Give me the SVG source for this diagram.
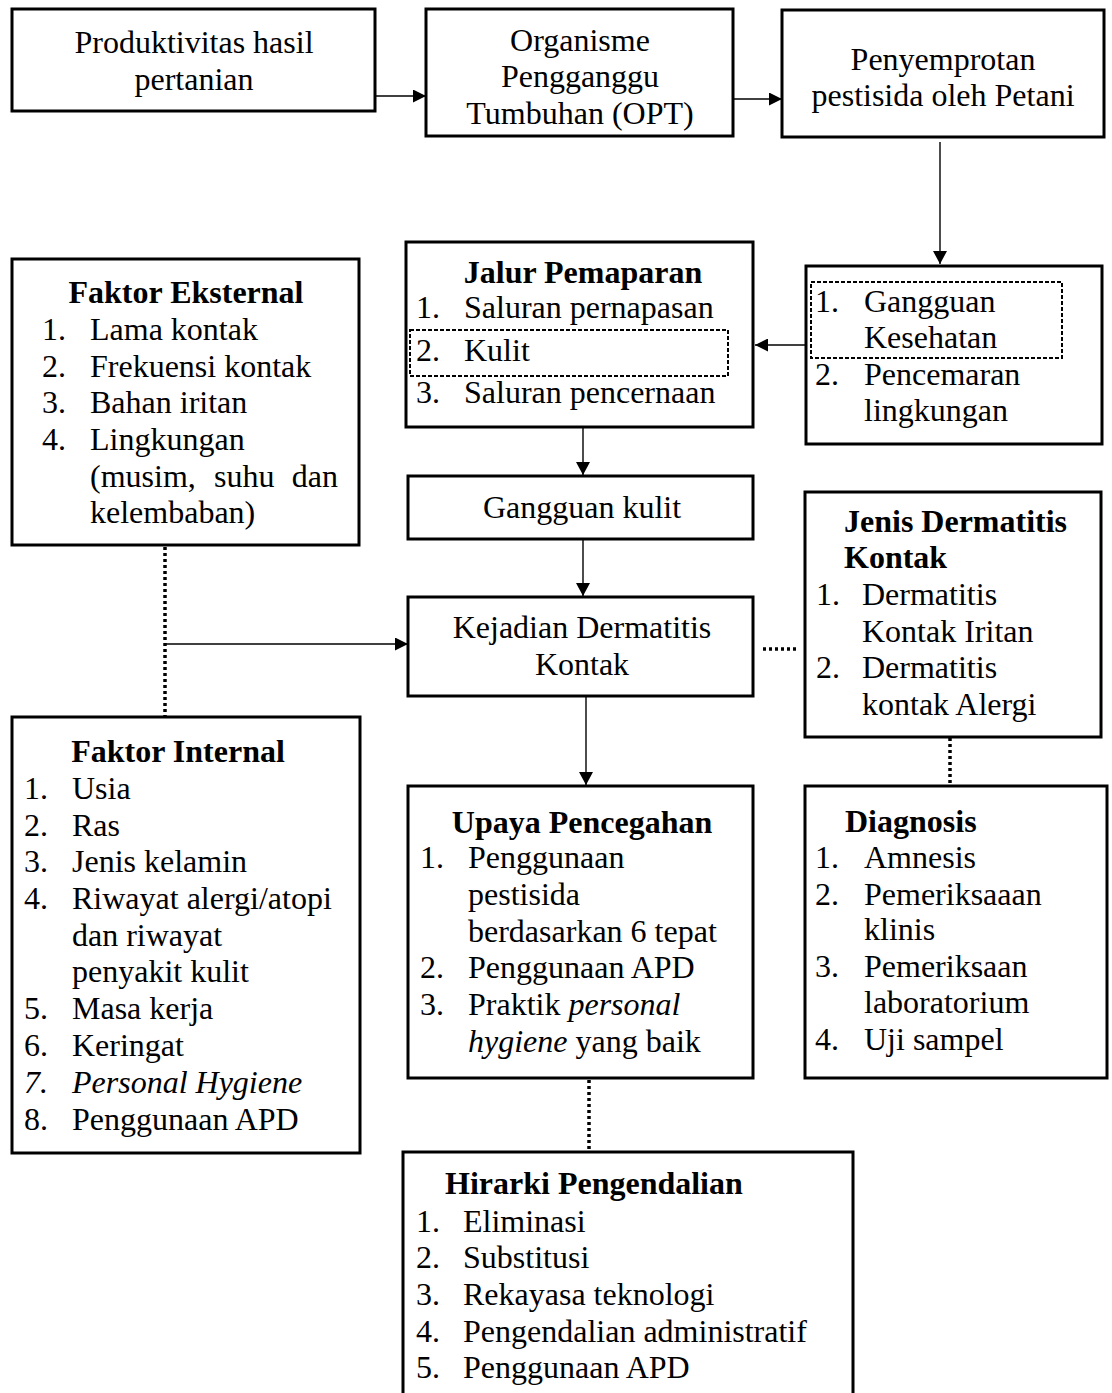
<svg xmlns="http://www.w3.org/2000/svg" width="1112" height="1393" viewBox="0 0 1112 1393">
<defs>
<style>
.box{fill:#fff;stroke:#000;stroke-width:3}
.dash{fill:none;stroke:#000;stroke-width:2;stroke-dasharray:4 2}
.ln{fill:none;stroke:#000;stroke-width:1.4}
.dot{fill:none;stroke:#000;stroke-width:3.5;stroke-dasharray:3 3}
text{font-family:"Liberation Serif","Times New Roman",serif;font-size:32px;fill:#000}
.c{text-anchor:middle}
.b{font-weight:bold}
.i{font-style:italic}
</style>
<marker id="ah" viewBox="0 0 10 10" refX="10" refY="5" markerWidth="13" markerHeight="14" markerUnits="userSpaceOnUse" orient="auto" preserveAspectRatio="none">
<path d="M0,0 L10,5 L0,10 z" fill="#000"/>
</marker>
<marker id="ahb" viewBox="0 0 10 10" refX="10" refY="5" markerWidth="13" markerHeight="13" markerUnits="userSpaceOnUse" orient="auto">
<path d="M0,0 L10,5 L0,10 z" fill="#000"/>
</marker>
</defs>
<rect width="1112" height="1393" fill="#fff"/>

<g id="connectors">
<line class="ln" x1="376" y1="96" x2="426" y2="96" marker-end="url(#ahb)"/>
<line class="ln" x1="733" y1="99" x2="782" y2="99" marker-end="url(#ahb)"/>
<line class="ln" x1="940" y1="142" x2="940" y2="264" marker-end="url(#ah)"/>
<line class="ln" x1="806" y1="345" x2="755" y2="345" marker-end="url(#ahb)"/>
<line class="ln" x1="583" y1="427" x2="583" y2="475" marker-end="url(#ah)"/>
<line class="ln" x1="583" y1="540" x2="583" y2="596" marker-end="url(#ah)"/>
<line class="ln" x1="165" y1="644" x2="408" y2="644" marker-end="url(#ahb)"/>
<line class="ln" x1="586" y1="696" x2="586" y2="785" marker-end="url(#ah)"/>
<line class="dot" x1="165" y1="547" x2="165" y2="716"/>
<line class="dot" x1="763" y1="649" x2="798" y2="649"/>
<line class="dot" x1="950" y1="738" x2="950" y2="784"/>
<line class="dot" x1="589" y1="1080" x2="589" y2="1150"/>
</g>

<g id="n1">
<rect class="box" x="12" y="9" width="363" height="102"/>
<text class="c" x="194" y="53">Produktivitas hasil</text>
<text class="c" x="194" y="90">pertanian</text>
</g>

<g id="n2">
<rect class="box" x="426" y="9" width="307" height="127"/>
<text class="c" x="580" y="51">Organisme</text>
<text class="c" x="580" y="87">Pengganggu</text>
<text class="c" x="580" y="124">Tumbuhan (OPT)</text>
</g>

<g id="n3">
<rect class="box" x="782" y="10" width="322" height="127"/>
<text class="c" x="943" y="70">Penyemprotan</text>
<text class="c" x="943" y="106">pestisida oleh Petani</text>
</g>

<g id="n4">
<rect class="box" x="12" y="259" width="347" height="286"/>
<text class="c b" x="186" y="303">Faktor Eksternal</text>
<text x="42" y="340">1.</text><text x="90" y="340">Lama kontak</text>
<text x="42" y="377">2.</text><text x="90" y="377">Frekuensi kontak</text>
<text x="42" y="413">3.</text><text x="90" y="413">Bahan iritan</text>
<text x="42" y="450">4.</text><text x="90" y="450">Lingkungan</text>
<text x="90" y="487">(musim,</text><text x="214" y="487">suhu</text><text x="338" y="487" text-anchor="end">dan</text>
<text x="90" y="523">kelembaban)</text>
</g>

<g id="n5">
<rect class="box" x="406" y="242" width="347" height="185"/>
<text class="c b" x="583" y="283">Jalur Pemaparan</text>
<text x="416" y="318">1.</text><text x="464" y="318">Saluran pernapasan</text>
<rect class="dash" x="410" y="330" width="318" height="46"/>
<text x="416" y="361">2.</text><text x="464" y="361">Kulit</text>
<text x="416" y="403">3.</text><text x="464" y="403">Saluran pencernaan</text>
</g>

<g id="n6">
<rect class="box" x="806" y="266" width="296" height="178"/>
<rect class="dash" x="811" y="282" width="251" height="76"/>
<text x="815" y="312">1.</text><text x="864" y="312">Gangguan</text>
<text x="864" y="348">Kesehatan</text>
<text x="815" y="385">2.</text><text x="864" y="385">Pencemaran</text>
<text x="864" y="421">lingkungan</text>
</g>

<g id="n7">
<rect class="box" x="408" y="476" width="345" height="63"/>
<text class="c" x="582" y="518">Gangguan kulit</text>
</g>

<g id="n8">
<rect class="box" x="408" y="597" width="345" height="99"/>
<text class="c" x="582" y="638">Kejadian Dermatitis</text>
<text class="c" x="582" y="675">Kontak</text>
</g>

<g id="n9">
<rect class="box" x="805" y="492" width="296" height="245"/>
<text class="b" x="844" y="532">Jenis Dermatitis</text>
<text class="b" x="844" y="568">Kontak</text>
<text x="816" y="605">1.</text><text x="862" y="605">Dermatitis</text>
<text x="862" y="642">Kontak Iritan</text>
<text x="816" y="678">2.</text><text x="862" y="678">Dermatitis</text>
<text x="862" y="715">kontak Alergi</text>
</g>

<g id="n10">
<rect class="box" x="12" y="717" width="348" height="436"/>
<text class="c b" x="178" y="762">Faktor Internal</text>
<text x="24" y="799">1.</text><text x="72" y="799">Usia</text>
<text x="24" y="836">2.</text><text x="72" y="836">Ras</text>
<text x="24" y="872">3.</text><text x="72" y="872">Jenis kelamin</text>
<text x="24" y="909">4.</text><text x="72" y="909">Riwayat alergi/atopi</text>
<text x="72" y="946">dan riwayat</text>
<text x="72" y="982">penyakit kulit</text>
<text x="24" y="1019">5.</text><text x="72" y="1019">Masa kerja</text>
<text x="24" y="1056">6.</text><text x="72" y="1056">Keringat</text>
<text class="i" x="24" y="1093">7.</text><text class="i" x="72" y="1093">Personal Hygiene</text>
<text x="24" y="1130">8.</text><text x="72" y="1130">Penggunaan APD</text>
</g>

<g id="n11">
<rect class="box" x="408" y="786" width="345" height="292"/>
<text class="c b" x="582" y="833">Upaya Pencegahan</text>
<text x="420" y="868">1.</text><text x="468" y="868">Penggunaan</text>
<text x="468" y="905">pestisida</text>
<text x="468" y="942">berdasarkan 6 tepat</text>
<text x="420" y="978">2.</text><text x="468" y="978">Penggunaan APD</text>
<text x="420" y="1015">3.</text><text x="468" y="1015">Praktik <tspan class="i">personal</tspan></text>
<text x="468" y="1052"><tspan class="i">hygiene</tspan> yang baik</text>
</g>

<g id="n12">
<rect class="box" x="805" y="786" width="302" height="292"/>
<text class="b" x="845" y="832">Diagnosis</text>
<text x="815" y="868">1.</text><text x="864" y="868">Amnesis</text>
<text x="815" y="905">2.</text><text x="864" y="905">Pemeriksaaan</text>
<text x="864" y="940">klinis</text>
<text x="815" y="977">3.</text><text x="864" y="977">Pemeriksaan</text>
<text x="864" y="1013">laboratorium</text>
<text x="815" y="1050">4.</text><text x="864" y="1050">Uji sampel</text>
</g>

<g id="n13">
<path class="box" d="M403,1396 L403,1152 L853,1152 L853,1396"/>
<text class="b" x="445" y="1194">Hirarki Pengendalian</text>
<text x="416" y="1232">1.</text><text x="463" y="1232">Eliminasi</text>
<text x="416" y="1268">2.</text><text x="463" y="1268">Substitusi</text>
<text x="416" y="1305">3.</text><text x="463" y="1305">Rekayasa teknologi</text>
<text x="416" y="1342">4.</text><text x="463" y="1342">Pengendalian administratif</text>
<text x="416" y="1378">5.</text><text x="463" y="1378">Penggunaan APD</text>
</g>
</svg>
